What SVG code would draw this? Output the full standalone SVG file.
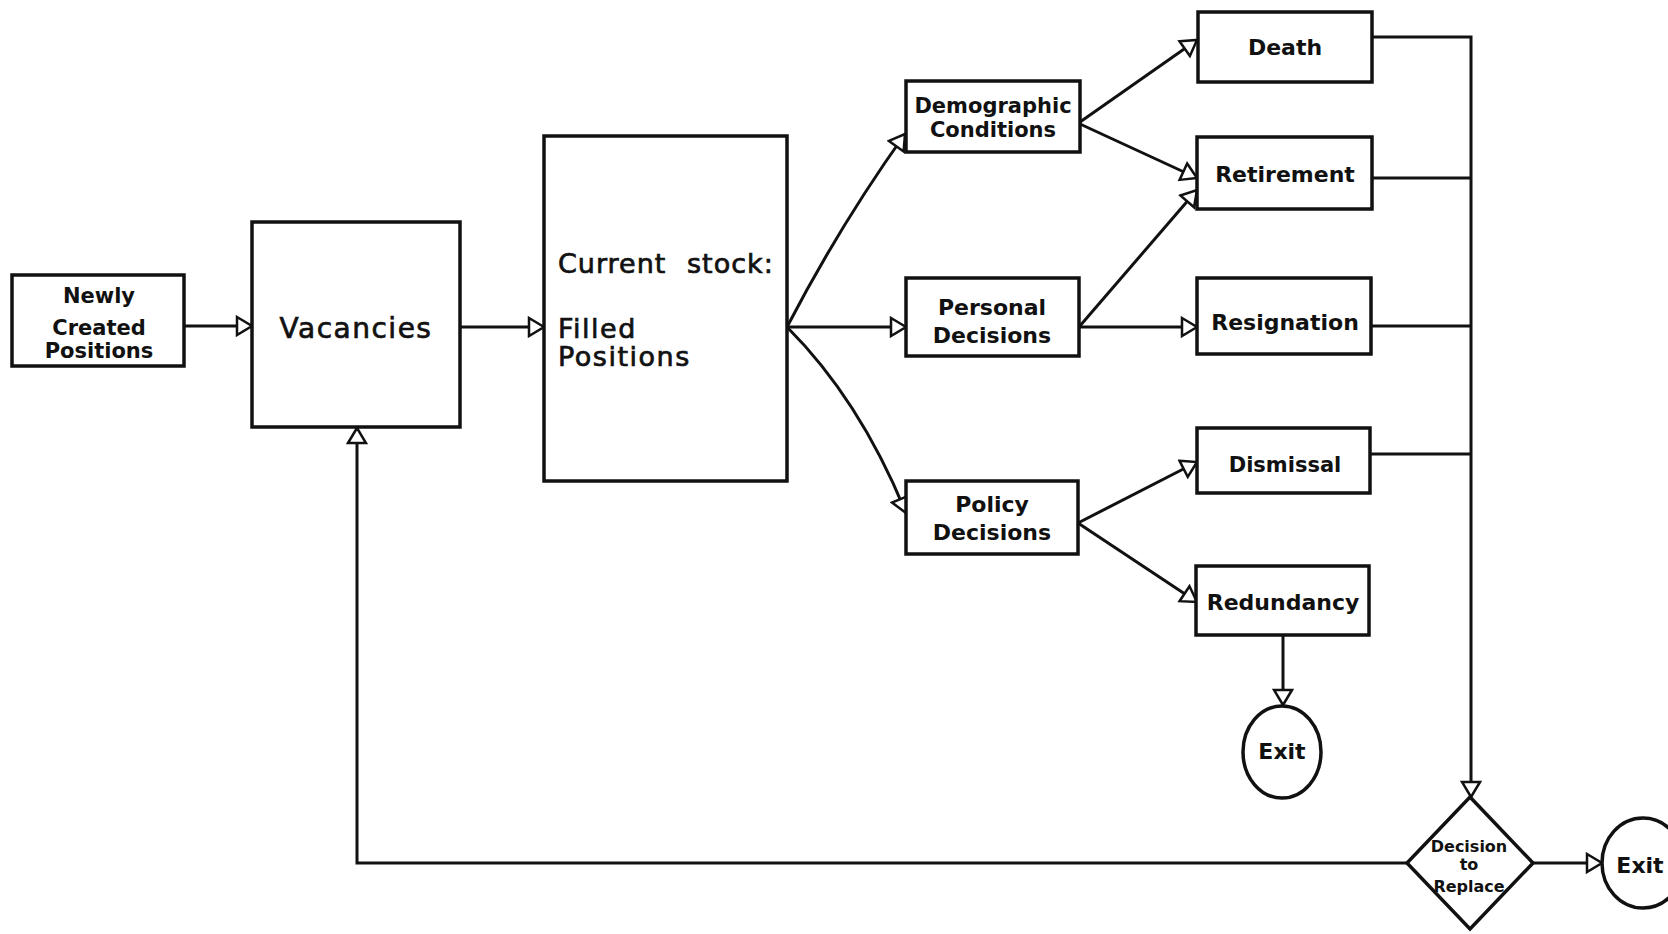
<svg xmlns="http://www.w3.org/2000/svg" width="1668" height="934" viewBox="0 0 1668 934">
<style>
.box{fill:#fff;stroke:#111;stroke-width:3.5}
.ln{fill:none;stroke:#111;stroke-width:3}
.arr{fill:none;stroke:#111;stroke-width:3;marker-end:url(#tri)}
.lb{font-family:"DejaVu Sans",sans-serif;font-weight:bold;fill:#111;text-anchor:middle}
.big{font-family:"DejaVu Sans",sans-serif;fill:#111;stroke:#111;stroke-width:0.7}
</style>
<defs>
<marker id="tri" viewBox="-2 -2 20 22" markerWidth="20" markerHeight="22" refX="15" refY="9" orient="auto" markerUnits="userSpaceOnUse">
<path d="M0,0 L15,9 L0,18 Z" fill="#fff" stroke="#111" stroke-width="2.5" stroke-linejoin="miter"/>
</marker>
</defs>
<rect width="1668" height="934" fill="#fff"/>
<g id="connectors">
<path class="arr" d="M184,326 L252,326"/>
<path class="arr" d="M460,327 L544,327"/>
<path class="arr" d="M787,327 Q840,225 905,134"/>
<path class="arr" d="M787,327 L906,327"/>
<path class="arr" d="M787,327 Q860,400 906,513"/>
<path class="arr" d="M1080,122 L1197,40"/>
<path class="arr" d="M1080,124 L1197,178"/>
<path class="arr" d="M1079,327 L1197,190"/>
<path class="arr" d="M1079,327 L1197,327"/>
<path class="arr" d="M1078,523 L1197,462"/>
<path class="arr" d="M1078,523 L1197,602"/>
<path class="arr" d="M1283,635 L1283,705"/>
<path class="arr" d="M1372,37 L1471,37 L1471,797"/>
<path class="ln" d="M1372,178 L1471,178"/>
<path class="ln" d="M1371,326 L1471,326"/>
<path class="ln" d="M1370,454 L1471,454"/>
<path class="arr" d="M1407,863 L357,863 L357,428"/>
<path class="arr" d="M1533,863 L1602,863"/>
</g>
<g id="newly">
<rect class="box" x="12" y="275" width="172" height="91"/>
<text class="lb" font-size="21" x="99" y="303">Newly</text>
<text class="lb" font-size="21" x="99" y="335">Created</text>
<text class="lb" font-size="21" x="99" y="358">Positions</text>
</g>
<g id="vacancies">
<rect class="box" x="252" y="222" width="208" height="205"/>
<text class="big" font-size="28" letter-spacing="1.5" x="356" y="338" text-anchor="middle">Vacancies</text>
</g>
<g id="stock">
<rect class="box" x="544" y="136" width="243" height="345"/>
<text class="big" font-size="27" letter-spacing="1" x="558" y="273">Current</text>
<text class="big" font-size="27" letter-spacing="1" x="687" y="273">stock:</text>
<text class="big" font-size="27" letter-spacing="1.5" x="558" y="338">Filled</text>
<text class="big" font-size="27" letter-spacing="1.5" x="558" y="366">Positions</text>
</g>
<g id="demographic">
<rect class="box" x="906" y="81" width="174" height="71"/>
<text class="lb" font-size="21" x="993" y="113">Demographic</text>
<text class="lb" font-size="21" x="993" y="137">Conditions</text>
</g>
<g id="personal">
<rect class="box" x="906" y="278" width="173" height="78"/>
<text class="lb" font-size="22" x="992" y="315">Personal</text>
<text class="lb" font-size="22" x="992" y="343">Decisions</text>
</g>
<g id="policy">
<rect class="box" x="906" y="481" width="172" height="73"/>
<text class="lb" font-size="22" x="992" y="512">Policy</text>
<text class="lb" font-size="22" x="992" y="540">Decisions</text>
</g>
<g id="death">
<rect class="box" x="1198" y="12" width="174" height="70"/>
<text class="lb" font-size="22" x="1285" y="55">Death</text>
</g>
<g id="retirement">
<rect class="box" x="1197" y="137" width="175" height="72"/>
<text class="lb" font-size="22" x="1285" y="182">Retirement</text>
</g>
<g id="resignation">
<rect class="box" x="1197" y="278" width="174" height="76"/>
<text class="lb" font-size="22" x="1285" y="330">Resignation</text>
</g>
<g id="dismissal">
<rect class="box" x="1197" y="428" width="173" height="65"/>
<text class="lb" font-size="21" x="1285" y="472">Dismissal</text>
</g>
<g id="redundancy">
<rect class="box" x="1196" y="566" width="173" height="69"/>
<text class="lb" font-size="22" x="1283" y="610">Redundancy</text>
</g>
<g id="exit1">
<ellipse class="box" cx="1282" cy="752" rx="39" ry="46"/>
<text class="lb" font-size="22" x="1282" y="759">Exit</text>
</g>
<g id="decision">
<polygon class="box" points="1470,797 1533,863 1470,929 1407,863"/>
<text class="lb" font-size="16" x="1469" y="852">Decision</text>
<text class="lb" font-size="16" x="1469" y="870">to</text>
<text class="lb" font-size="16" x="1469" y="892">Replace</text>
</g>
<g id="exit2">
<ellipse class="box" cx="1643" cy="863" rx="41" ry="45"/>
<text class="lb" font-size="22" x="1640" y="873">Exit</text>
</g>
</svg>
